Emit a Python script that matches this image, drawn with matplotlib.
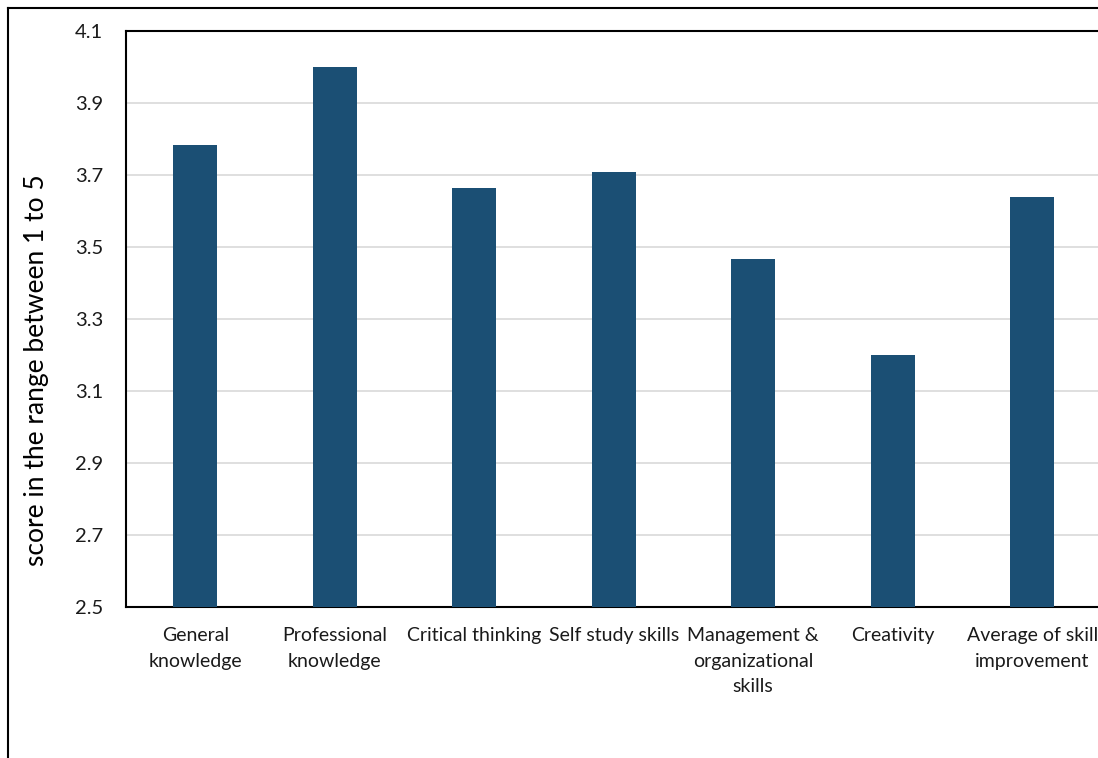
import matplotlib
matplotlib.use("Agg")
import matplotlib.pyplot as plt
from matplotlib.lines import Line2D
import numpy as np

categories = ["General\nknowledge", "Professional\nknowledge", "Critical thinking",
              "Self study skills", "Management &\norganizational\nskills", "Creativity",
              "Average of skill\nimprovement"]
scores = [3.783, 4.0, 3.664, 3.708, 3.467, 3.2, 3.639]
yticks = [2.5, 2.7, 2.9, 3.1, 3.3, 3.5, 3.7, 3.9, 4.1]

plt.rcParams['font.family'] = ['Lato', 'DejaVu Sans']

W, H = 1098, 758
fig = plt.figure(figsize=(W / 100, H / 100), dpi=100)
ax = fig.add_axes([125.5 / W, 151 / H, 976.5 / W, 576 / H])

x = np.arange(len(categories))
ax.bar(x, scores, width=0.315, color="#1b4f74", zorder=3)

ax.set_xlim(-0.5, len(categories) - 0.5)
ax.set_ylim(2.5, 4.1)
ax.set_yticks(yticks)
ax.set_yticklabels([f"{t:.1f}" for t in yticks], fontsize=14.5)
ax.set_xticks(x)
ax.set_xticklabels(categories, fontsize=14, linespacing=1.6, va="top")
ax.tick_params(axis="both", length=0, colors="#1a1a1a")
ax.tick_params(axis="y", pad=16)
ax.tick_params(axis="x", pad=14.5)
ax.grid(axis="y", color="#d9d9d9", linewidth=1.2, zorder=0)

for side in ["left", "bottom", "top"]:
    ax.spines[side].set_color("black")
    ax.spines[side].set_linewidth(1.5)
ax.spines["right"].set_visible(False)

ax.set_ylabel("score in the range between 1 to 5", fontsize=19)
ax.yaxis.set_label_coords((49 - 125.5) / 976.5, (758 - 370 - 151) / 576)

# outer chart border
fig.add_artist(Line2D([7.5 / W, 7.5 / W], [0, 1 - 7.5 / H], transform=fig.transFigure,
                      color="black", linewidth=1.5))
fig.add_artist(Line2D([7.5 / W, 1], [1 - 7.5 / H, 1 - 7.5 / H], transform=fig.transFigure,
                      color="black", linewidth=1.5))

fig.savefig("out.png", dpi=100)
